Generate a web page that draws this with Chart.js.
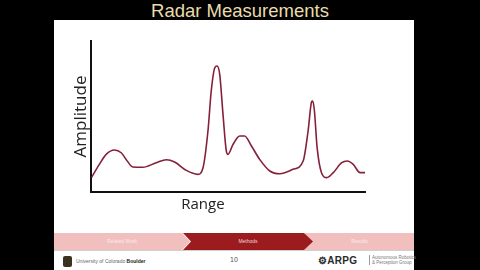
<!DOCTYPE html>
<html><head><meta charset="utf-8">
<script src="https://cdn.jsdelivr.net/npm/chart.js@4/dist/chart.umd.min.js"></script>
<style>
html,body{margin:0;padding:0;background:#000;width:480px;height:270px;overflow:hidden;font-family:"Liberation Sans",Arial,sans-serif;}
#title{position:absolute;left:0;top:0;width:480px;text-align:center;color:#e9dcac;font-size:18.5px;line-height:21px;top:0px;}
#slide{position:absolute;left:54px;top:20px;width:360px;height:250px;background:#fff;}
#chartBox{position:absolute;left:60px;top:34px;width:310px;height:185px;}
.seg{position:absolute;top:233px;height:17px;color:#fbe9e9;font-size:5px;line-height:17px;text-align:center;}
#s1{left:54px;width:136px;background:#f2bfbf;clip-path:polygon(0 0,128px 0,136px 50%,128px 100%,0 100%);}
#s2{left:183px;width:130px;background:#9b1b1f;clip-path:polygon(0 0,121px 0,130px 50%,121px 100%,0 100%,8px 50%);z-index:2;color:#f3d6d6;}
#s3{left:305px;width:109px;background:#f2bfbf;}
#sep{position:absolute;left:54px;top:250px;width:360px;height:1px;background:#cfcfcf;}
#cu{position:absolute;left:63px;top:256px;width:9px;height:11px;background:#3a3220;border-radius:2px;}
#cutext{position:absolute;left:76px;top:258px;font-size:5px;color:#666;}
#cutext b{color:#222;}
#page{position:absolute;left:230px;top:256px;font-size:7px;color:#555;}
#arpg{position:absolute;left:318px;top:255px;font-size:10px;font-weight:bold;color:#2a2a2a;letter-spacing:0.3px;}
#arpgt{position:absolute;left:369px;top:255px;font-size:4.5px;line-height:5px;color:#777;border-left:1px solid #999;padding-left:2px;}
</style></head>
<body>
<div id="title">Radar Measurements</div>
<div id="slide"></div>
<div id="chartBox"><canvas id="c"></canvas></div>
<div class="seg" id="s1">Related Work</div>
<div class="seg" id="s2">Methods</div>
<div class="seg" id="s3">Results</div>
<div id="sep"></div>
<div id="cu"></div>
<div id="cutext">University of Colorado <b>Boulder</b></div>
<div id="page">10</div>
<div id="arpg">&#9881;ARPG</div>
<div id="arpgt">Autonomous Robotics<br>&amp; Perception Group</div>
<script>
const rangeValues = [0,2.9,5.4,8.4,10.9,12.7,15.1,18.8,23.7,27.4,30.4,34.7,38.9,40.8,42.6,43.8,45.1,45.9,46.9,48.1,49.3,49.9,51.8,54.2,56.0,58.5,61.5,65.2,68.9,73.7,77.4,79.2,80.5,80.9,81.5,82.5,84.1,86.0,88.4,91.5,93.5,95.7,98.2,100];
const amplitudeValues = [9.5,18.3,24.9,27.8,26.0,21.6,16.6,16.4,19.4,21.4,19.9,14.3,11.7,16.1,40.4,66.9,82.3,83.4,77.9,51.4,27.2,24.9,31.6,37.1,37.1,30.5,21.6,13.9,12.1,15.0,20.5,40.4,59.8,60.3,54.0,29.4,12.8,9.5,12.8,19.4,20.5,18.3,12.8,12.8];
const xAxisTitle = "Range";
const yAxisTitle = "Amplitude";
const points = rangeValues.map((r,i)=>({x:r,y:amplitudeValues[i]}));
new Chart(document.getElementById('c'),{
  type:'line',
  data:{datasets:[{data:points,borderColor:'#85203a',borderWidth:1.6,pointRadius:0,cubicInterpolationMode:'monotone',fill:false}]},
  options:{
    responsive:true,maintainAspectRatio:false,animation:false,
    plugins:{legend:{display:false},tooltip:{enabled:false}},
    layout:{padding:{left:10,top:7,right:5,bottom:1}},
    scales:{
      x:{type:'linear',min:0,max:100,
        grid:{display:false,drawTicks:false},
        border:{display:true,color:'#111',width:2},
        ticks:{display:false},
        title:{display:true,text:xAxisTitle+'\u00a0'.repeat(13),color:'#222',font:{family:'"Open Sans",sans-serif',size:15},padding:{top:4,bottom:4}}},
      y:{min:0,max:100,
        grid:{display:false,drawTicks:false},
        border:{display:true,color:'#111',width:2},
        ticks:{display:false},
        title:{display:true,text:yAxisTitle,color:'#222',font:{family:'"Open Sans",sans-serif',size:17},padding:{top:0.5,bottom:0.5}}}
    }
  }
});
</script>
</body></html>
